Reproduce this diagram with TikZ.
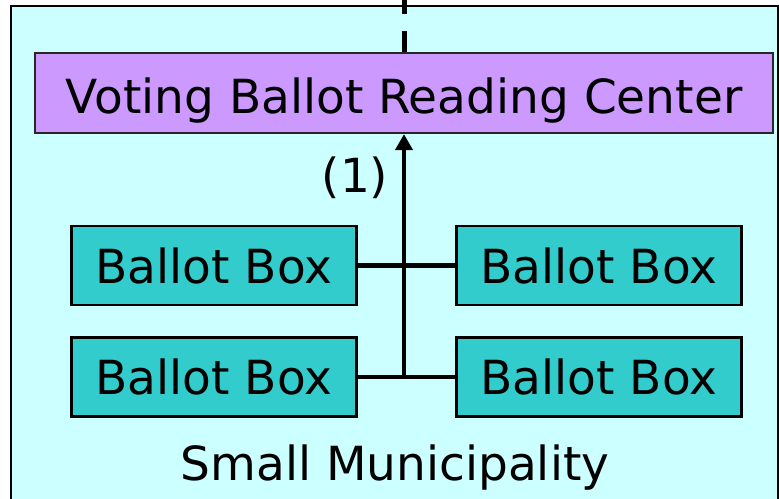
\documentclass[tikz,border=0pt]{standalone}
\usepackage{fontspec}
\setmainfont{DejaVu Sans}
\usetikzlibrary{arrows.meta}

\definecolor{regionfill}{HTML}{CCFFFF}
\definecolor{centerfill}{HTML}{CC99FF}
\definecolor{boxfill}{HTML}{33CCCC}

\tikzset{
  bigtext/.style={font=\fontsize{47pt}{56pt}\selectfont},
  centerbox/.style={bigtext, draw=black!85, line width=2.2pt, fill=centerfill,
    inner sep=0pt, minimum width=738pt, text height=60pt, text depth=20pt},
  ballotbox/.style={bigtext, draw=black, line width=2.2pt, fill=boxfill,
    inner sep=0pt, minimum width=285pt, text height=57pt, text depth=22pt},
  link/.style={line width=4.8pt},
  uplink/.style={link, -{Triangle[length=16pt,width=17pt]}},
  remote/.style={line width=5pt, dash pattern=on 21pt off 17pt},
}

\begin{document}
\begin{tikzpicture}[x=1pt, y=-1pt]
  \useasboundingbox (0,0) rectangle (779,498);
  \clip (0,0) rectangle (779,498);

  % municipality area
  \path[draw=black, line width=2.2pt, fill=regionfill] (11,6) rectangle (778,530);

  % reading centre and ballot boxes
  \node[centerbox] (center) at (404,93) {Voting Ballot Reading Center};
  \node[ballotbox] (bl1) at (214,265.5) {Ballot Box};
  \node[ballotbox] (br1) at (599,265.5) {Ballot Box};
  \node[ballotbox] (bl2) at (214,377) {Ballot Box};
  \node[ballotbox] (br2) at (599,377) {Ballot Box};

  % labels
  \node[bigtext] (step1) at (355,178) {(1)};
  \node[bigtext, anchor=base] (area) at (395,480) {Small Municipality};

  % connectors
  \coordinate (join) at (center.south |- bl2.east);
  \coordinate (offpage) at ([yshift=6pt]center.north |- 0,0);
  \draw[link] (bl1.east) -- (br1.west);
  \draw[link] (bl2.east) -- (br2.west);
  \draw[uplink] ([yshift=-2.4pt]join) -- (center.south);
  \draw[remote] (center.north) -- (offpage);
\end{tikzpicture}
\end{document}
